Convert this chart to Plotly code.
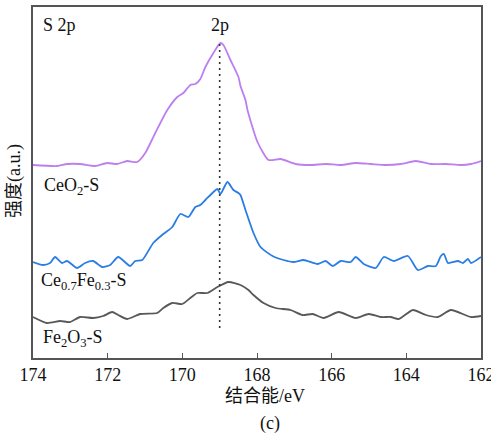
import plotly.graph_objects as go

def px2ev(p):
    return 174 - (p - 33) / 37.25

def py2i(p):
    return 358 - p

# Data (pixel estimates converted to eV / arbitrary intensity)
ceo2_px = [33,57,67,80,95,107,117,127,137,145,155,167,177,183,190,195,200,205,213,220,223,230,238,240,245,247,257,268,280,295,310,325,340,355,370,385,400,415,430,445,460,470,480]
ceo2_py = [165,166,164,164,166,163,164,161,162,153,133,110,97,93,85,84,79,67,53,43,45,60,77,86,100,110,142,160,159,164,165,164,165,163,164,165,164,161,164,164,165,164,161]

cefe_px = [33,43,50,55,62,67,77,85,93,102,110,118,130,135,142,153,163,172,180,188,195,200,205,213,217,220,227,233,238,240,245,253,260,272,283,293,303,317,325,332,340,350,355,363,375,383,393,407,417,427,435,440,443,447,457,462,467,470,480]
cefe_py = [262,265,263,257,263,261,268,263,261,267,265,257,266,261,260,243,234,227,214,217,207,205,200,192,189,194,182,190,193,195,210,233,247,256,260,262,260,264,261,266,261,262,257,264,268,257,261,256,270,266,266,256,254,263,261,263,259,263,257]

fe2o3_px = [33,47,60,70,80,93,103,112,118,127,140,157,163,172,182,190,197,207,217,228,240,248,253,263,275,290,302,312,323,338,355,368,380,390,398,412,425,437,450,470,480]
fe2o3_py = [317,323,321,322,317,318,316,312,315,319,314,313,308,303,304,298,293,293,287,282,285,290,295,303,308,310,315,314,318,312,318,314,317,317,319,310,315,317,310,317,316]

series = [
    ("CeO2-S", ceo2_px, ceo2_py, "#bd7ff0"),
    ("Ce0.7Fe0.3-S", cefe_px, cefe_py, "#2b7de6"),
    ("Fe2O3-S", fe2o3_px, fe2o3_py, "#585858"),
]

peak_ev = 169.0
ticks = [174, 172, 170, 168, 166, 164, 162]

fig = go.Figure()
for name, xs, ys, col in series:
    fig.add_trace(go.Scatter(x=[px2ev(v) for v in xs], y=[py2i(v) for v in ys],
                             mode="lines", line=dict(color=col, width=1.8, shape="spline", smoothing=0.6),
                             name=name, showlegend=False))

fig.add_shape(type="line", xref="x", yref="y", x0=peak_ev, x1=peak_ev,
              y0=py2i(328), y1=py2i(44),
              line=dict(color="#333", width=1.6, dash="2px,4px"))

serif = "Liberation Serif"
cjk = "Liberation Serif, Noto Sans CJK SC"
W, H = 448, 351

def ax(px):
    return (px - 33) / W

def ay(py):
    return (358 - py) / H

ann = [
    dict(text="S 2p", x=ax(41), y=ay(25), xanchor="left"),
    dict(text="CeO<sub>2</sub>-S", x=ax(42), y=ay(186), xanchor="left"),
    dict(text="Ce<sub>0.7</sub>Fe<sub>0.3</sub>-S", x=ax(39), y=ay(281), xanchor="left"),
    dict(text="Fe<sub>2</sub>O<sub>3</sub>-S", x=ax(41), y=ay(338), xanchor="left"),
    dict(text="2p", x=ax(220), y=ay(25), xanchor="center"),
    dict(text="结合能/eV", x=ax(265), y=ay(396), xanchor="center"),
    dict(text="(c)", x=ax(270), y=ay(423), xanchor="center"),
    dict(text="强度(a.u.)", x=ax(14), y=ay(181), xanchor="center", textangle=-90),
]
for a in ann:
    fig.add_annotation(xref="paper", yref="paper", showarrow=False, yanchor="middle",
                       font=dict(family=cjk, size=18, color="#111"), **a)

fig.update_layout(
    width=491, height=434,
    margin=dict(l=33, r=10, t=7, b=76, autoexpand=False),
    paper_bgcolor="white", plot_bgcolor="white",
    font=dict(family=serif, size=18, color="#111"),
    xaxis=dict(range=[174, 162], tickvals=ticks, ticktext=[str(t) for t in ticks],
               ticks="inside", ticklen=5, tickwidth=1.2, tickcolor="#555",
               ticklabeloverflow="allow", automargin=False,
               showline=True, linecolor="#555", linewidth=1.5, mirror=True,
               showgrid=False, zeroline=False,
               tickfont=dict(family=serif, size=18, color="#111")),
    yaxis=dict(range=[0, 351], showticklabels=False, ticks="", automargin=False,
               showline=True, linecolor="#555", linewidth=1.5, mirror=True,
               showgrid=False, zeroline=False),
)

fig.write_html("out.html")
